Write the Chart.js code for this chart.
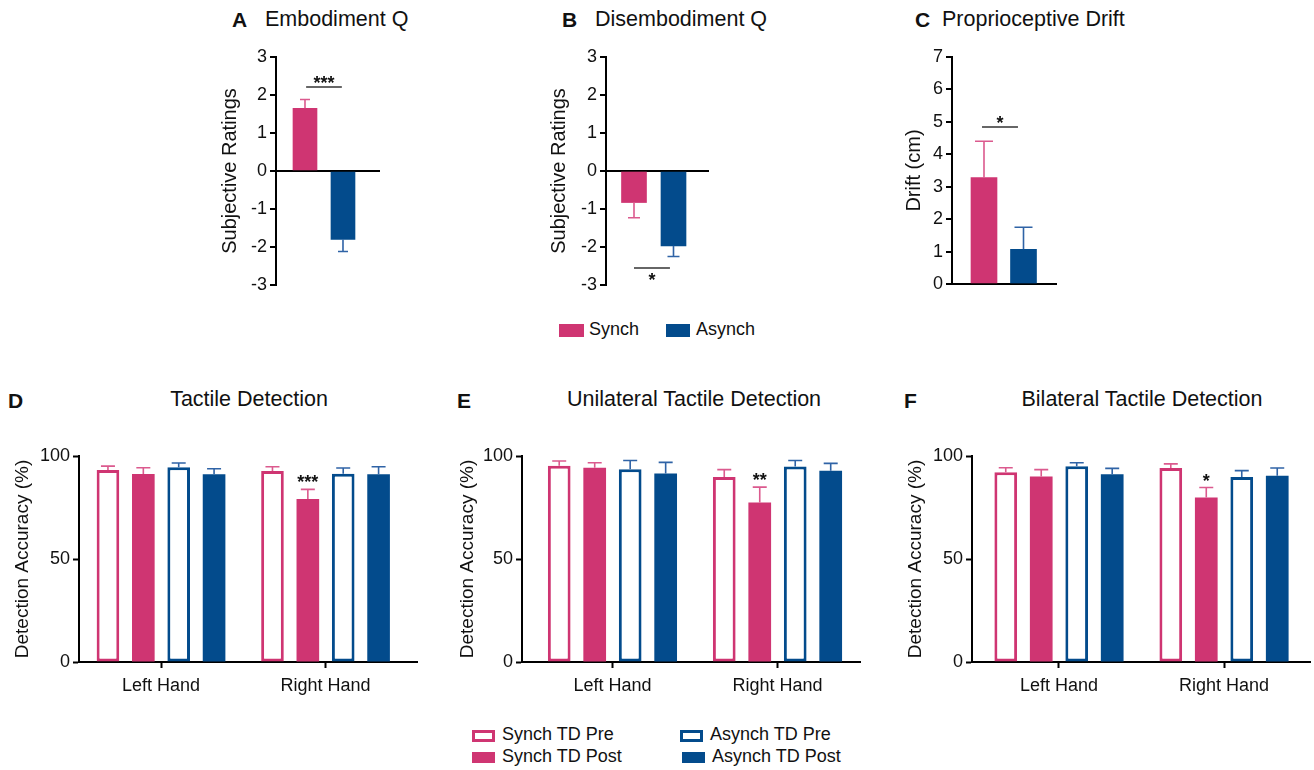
<!DOCTYPE html>
<html>
<head>
<meta charset="utf-8">
<script src="https://cdn.jsdelivr.net/npm/chart.js@4.4.1/dist/chart.umd.min.js"></script>
<style>
  body { margin: 0; background: #fff; width: 1314px; height: 770px; position: relative; overflow: hidden;
         font-family: "Liberation Sans", Arial, sans-serif; color: #111; }
  .box { position: absolute; }
  .t { position: absolute; white-space: nowrap; line-height: 1.2; }
  .c { transform: translateX(-50%); }
  .sw { position: absolute; box-sizing: border-box; }
</style>
</head>
<body>

<!-- panel letters + titles -->
<div class="t" style="left:232px;top:7px;font-size:21px;font-weight:bold">A</div>
<div class="t" style="left:265px;top:7px;font-size:21.5px">Embodiment Q</div>
<div class="t" style="left:562px;top:7px;font-size:21px;font-weight:bold">B</div>
<div class="t" style="left:595px;top:7px;font-size:21.5px">Disembodiment Q</div>
<div class="t" style="left:915px;top:7px;font-size:21px;font-weight:bold">C</div>
<div class="t" style="left:942px;top:7px;font-size:21.5px">Proprioceptive Drift</div>

<div class="t" style="left:8px;top:388px;font-size:21px;font-weight:bold">D</div>
<div class="t c" style="left:249px;top:387px;font-size:21.5px">Tactile Detection</div>
<div class="t" style="left:457px;top:388px;font-size:21px;font-weight:bold">E</div>
<div class="t c" style="left:694px;top:387px;font-size:21.5px">Unilateral Tactile Detection</div>
<div class="t" style="left:904px;top:388px;font-size:21px;font-weight:bold">F</div>
<div class="t c" style="left:1142px;top:387px;font-size:21.5px">Bilateral Tactile Detection</div>

<!-- top legend -->
<div class="sw" style="left:559px;top:324px;width:25px;height:13px;background:#cf3572"></div>
<div class="t" style="left:589px;top:319px;font-size:18px">Synch</div>
<div class="sw" style="left:666px;top:324px;width:24px;height:13px;background:#034b8c"></div>
<div class="t" style="left:696px;top:319px;font-size:18px">Asynch</div>

<!-- bottom legend -->
<div class="sw" style="left:472px;top:730px;width:23px;height:12px;border:3px solid #cf3572;background:#fff"></div>
<div class="t" style="left:502px;top:724px;font-size:18px">Synch TD Pre</div>
<div class="sw" style="left:472px;top:752px;width:23px;height:11px;background:#cf3572"></div>
<div class="t" style="left:502px;top:746px;font-size:18px">Synch TD Post</div>
<div class="sw" style="left:680px;top:730px;width:23px;height:12px;border:3px solid #034b8c;background:#fff"></div>
<div class="t" style="left:710px;top:724px;font-size:18px">Asynch TD Pre</div>
<div class="sw" style="left:682px;top:752px;width:23px;height:11px;background:#034b8c"></div>
<div class="t" style="left:712px;top:746px;font-size:18px">Asynch TD Post</div>

<div class="box" style="left:215px;top:30px"><canvas id="chartA" width="185" height="270"></canvas></div>
<div class="box" style="left:544px;top:30px"><canvas id="chartB" width="185" height="270"></canvas></div>
<div class="box" style="left:899px;top:30px"><canvas id="chartC" width="178" height="270"></canvas></div>
<div class="box" style="left:7px;top:430px"><canvas id="chartD" width="420" height="272"></canvas></div>
<div class="box" style="left:452px;top:430px"><canvas id="chartE" width="418" height="272"></canvas></div>
<div class="box" style="left:900px;top:430px"><canvas id="chartF" width="414" height="272"></canvas></div>

<script>
// ---- data ----
const groups = ['Synch', 'Asynch'];
const embodimentMean = [1.65, -1.80];
const embodimentSem = [0.23, 0.32];
const disembodimentMean = [-0.83, -1.97];
const disembodimentSem = [0.40, 0.28];
const driftMean = [3.28, 1.07];
const driftSem = [1.12, 0.68];

const hands = ['Left Hand', 'Right Hand'];
const tdSeries = ['Synch TD Pre', 'Synch TD Post', 'Asynch TD Pre', 'Asynch TD Post'];
// rows follow tdSeries, columns follow hands
const tactileMean = [[93.2, 92.7], [91.3, 79.1], [94.5, 91.4], [91.1, 91.1]];
const tactileSem = [[1.9, 2.1], [3.0, 4.7], [2.1, 2.8], [2.7, 3.7]];
const unilateralMean = [[95.3, 89.8], [94.3, 77.4], [93.6, 94.9], [91.5, 92.9]];
const unilateralSem = [[2.3, 3.6], [2.4, 7.5], [4.2, 2.9], [5.4, 3.5]];
const bilateralMean = [[92.1, 94.2], [90.0, 79.9], [95.0, 89.8], [91.2, 90.4]];
const bilateralSem = [[2.2, 2.0], [3.4, 4.8], [1.7, 3.1], [2.8, 3.8]];

const PINK = '#cf3572', BLUE = '#034b8c';
const PINK_ERR = '#db5a8e', BLUE_ERR = '#2f63a6';
const FONT = "'Liberation Sans', Arial, sans-serif";

Chart.defaults.font.family = FONT;
Chart.defaults.color = '#111';

// SEM whiskers, drawn away from zero
const errorBars = {
  id: 'errorBars',
  afterDatasetsDraw(chart, args, opts) {
    const { ctx } = chart;
    const y = chart.scales.y;
    chart.data.datasets.forEach((ds, i) => {
      chart.getDatasetMeta(i).data.forEach((bar, j) => {
        const v = ds.data[j].y, e = ds.errors[j];
        const y0 = y.getPixelForValue(v);
        const y1 = y.getPixelForValue(v < 0 ? v - e : v + e);
        ctx.save();
        ctx.strokeStyle = Array.isArray(ds.errorColor) ? ds.errorColor[j] : ds.errorColor;
        ctx.lineWidth = 1.6;
        ctx.beginPath();
        ctx.moveTo(bar.x, y0); ctx.lineTo(bar.x, y1);
        ctx.moveTo(bar.x - opts.cap, y1); ctx.lineTo(bar.x + opts.cap, y1);
        ctx.stroke();
        ctx.restore();
      });
    });
  }
};

// significance bracket / stars
const signif = {
  id: 'signif',
  afterDatasetsDraw(chart, args, o) {
    if (!o.text) return;
    const { ctx } = chart;
    const { x, y } = chart.scales;
    ctx.save();
    ctx.fillStyle = '#111';
    ctx.strokeStyle = '#333';
    ctx.lineWidth = 1.5;
    ctx.font = 'bold 18px ' + FONT;
    ctx.textAlign = 'center';
    ctx.textBaseline = 'alphabetic';
    if (o.bar) {
      const [d, k] = o.bar;
      const ds = chart.data.datasets[d];
      const el = chart.getDatasetMeta(d).data[k];
      const top = y.getPixelForValue(ds.data[k].y + ds.errors[k]);
      ctx.fillText(o.text, el.x, top - 1);
    } else {
      const py = y.getPixelForValue(o.y);
      const x0 = x.getPixelForValue(o.from), x1 = x.getPixelForValue(o.to);
      ctx.beginPath(); ctx.moveTo(x0, py); ctx.lineTo(x1, py); ctx.stroke();
      ctx.fillText(o.text, (x0 + x1) / 2, o.below ? py + 18 : py + 2);
    }
    ctx.restore();
  }
};

function topChart(id, means, sems, cfg) {
  return new Chart(document.getElementById(id), {
    type: 'bar',
    data: {
      labels: groups,
      datasets: [{
        data: groups.map((g, i) => ({ x: i, y: means[i] })),
        errors: sems,
        backgroundColor: [PINK, BLUE],
        errorColor: [PINK_ERR, BLUE_ERR],
        borderWidth: 0,
        barThickness: cfg.bar
      }]
    },
    options: {
      responsive: false,
      animation: false,
      layout: { padding: { top: 27, right: 20, bottom: cfg.padBottom, left: 0 } },
      plugins: {
        legend: { display: false },
        tooltip: { enabled: false },
        errorBars: { cap: cfg.cap },
        signif: cfg.sig
      },
      scales: {
        x: { type: 'linear', display: false, offset: false, min: cfg.xMin, max: cfg.xMax,
             grid: { offset: false } },
        y: {
          min: cfg.yMin, max: cfg.yMax,
          ticks: { stepSize: 1, color: '#111', font: { size: 18 }, padding: 3 },
          grid: {
            color: c => (c.tick && c.tick.value === 0) ? '#000' : 'rgba(0,0,0,0)',
            lineWidth: 2, tickColor: '#000', tickWidth: 2, tickLength: 6
          },
          border: { color: '#000', width: 2 },
          title: { display: true, text: cfg.title, font: { size: 20 }, color: '#111', padding: { top: 3, bottom: 4 } },
          afterFit: s => { s.width = cfg.yWidth; }
        }
      }
    },
    plugins: [errorBars, signif]
  });
}

function tdChart(id, means, sems, cfg) {
  const colors = [PINK, PINK, BLUE, BLUE];
  const errColors = [PINK_ERR, PINK_ERR, BLUE_ERR, BLUE_ERR];
  return new Chart(document.getElementById(id), {
    type: 'bar',
    data: {
      labels: hands,
      datasets: tdSeries.map((name, k) => ({
        label: name,
        data: hands.map((h, i) => ({ x: i, y: means[k][i] })),
        errors: sems[k],
        backgroundColor: k % 2 === 0 ? '#fff' : colors[k],
        borderColor: colors[k],
        borderWidth: k % 2 === 0 ? 3 : 0,
        borderSkipped: false,
        errorColor: errColors[k],
        categoryPercentage: 0.86,
        barPercentage: 0.64
      }))
    },
    options: {
      responsive: false,
      animation: false,
      layout: { padding: { top: 26, right: cfg.padRight, bottom: 0, left: 0 } },
      plugins: {
        legend: { display: false },
        tooltip: { enabled: false },
        errorBars: { cap: 7 },
        signif: { bar: [1, 1], text: cfg.stars }
      },
      scales: {
        x: {
          type: 'linear', offset: false, min: cfg.xMin, max: cfg.xMax,
          afterBuildTicks: s => { s.ticks = hands.map((h, i) => ({ value: i })); },
          ticks: { callback: v => hands[v], color: '#111', font: { size: 18 }, padding: 7, autoSkip: false, maxRotation: 0 },
          grid: { offset: false, drawOnChartArea: false, tickColor: '#000', tickWidth: 2, tickLength: 6 },
          border: { color: '#000', width: 2 },
          afterFit: s => { s.height = 40; }
        },
        y: {
          min: 0, max: 100,
          ticks: { stepSize: 50, color: '#111', font: { size: 18 }, padding: 3 },
          grid: { drawOnChartArea: false, tickColor: '#000', tickWidth: 2, tickLength: 6 },
          border: { color: '#000', width: 2 },
          title: { display: true, text: 'Detection Accuracy (%)', font: { size: 19 }, color: '#111', padding: { top: 4, bottom: 4 } },
          afterFit: s => { s.width = cfg.yWidth; }
        }
      }
    },
    plugins: [errorBars, signif]
  });
}

topChart('chartA', embodimentMean, embodimentSem, {
  yMin: -3, yMax: 3, xMin: -0.763, xMax: 1.974, yWidth: 61, bar: 24, cap: 5, padBottom: 15,
  title: 'Subjective Ratings', sig: { from: 0.03, to: 0.97, y: 2.21, text: '***' }
});
topChart('chartB', disembodimentMean, disembodimentSem, {
  yMin: -3, yMax: 3, xMin: -0.709, xMax: 1.899, yWidth: 62, bar: 25, cap: 6, padBottom: 15,
  title: 'Subjective Ratings', sig: { from: 0, to: 0.91, y: -2.55, text: '*', below: true }
});
topChart('chartC', driftMean, driftSem, {
  yMin: 0, yMax: 7, xMin: -0.81, xMax: 1.848, yWidth: 53, bar: 26, cap: 9, padBottom: 16,
  title: 'Drift (cm)', sig: { from: -0.05, to: 0.86, y: 4.84, text: '*' }
});

tdChart('chartD', tactileMean, tactileSem, { xMin: -0.4985, xMax: 1.556, yWidth: 72, padRight: 10, stars: '***' });
tdChart('chartE', unilateralMean, unilateralSem, { xMin: -0.548, xMax: 1.5, yWidth: 70, padRight: 10, stars: '**' });
tdChart('chartF', bilateralMean, bilateralSem, { xMin: -0.527, xMax: 1.521, yWidth: 72, padRight: 4, stars: '*' });
</script>
</body>
</html>
